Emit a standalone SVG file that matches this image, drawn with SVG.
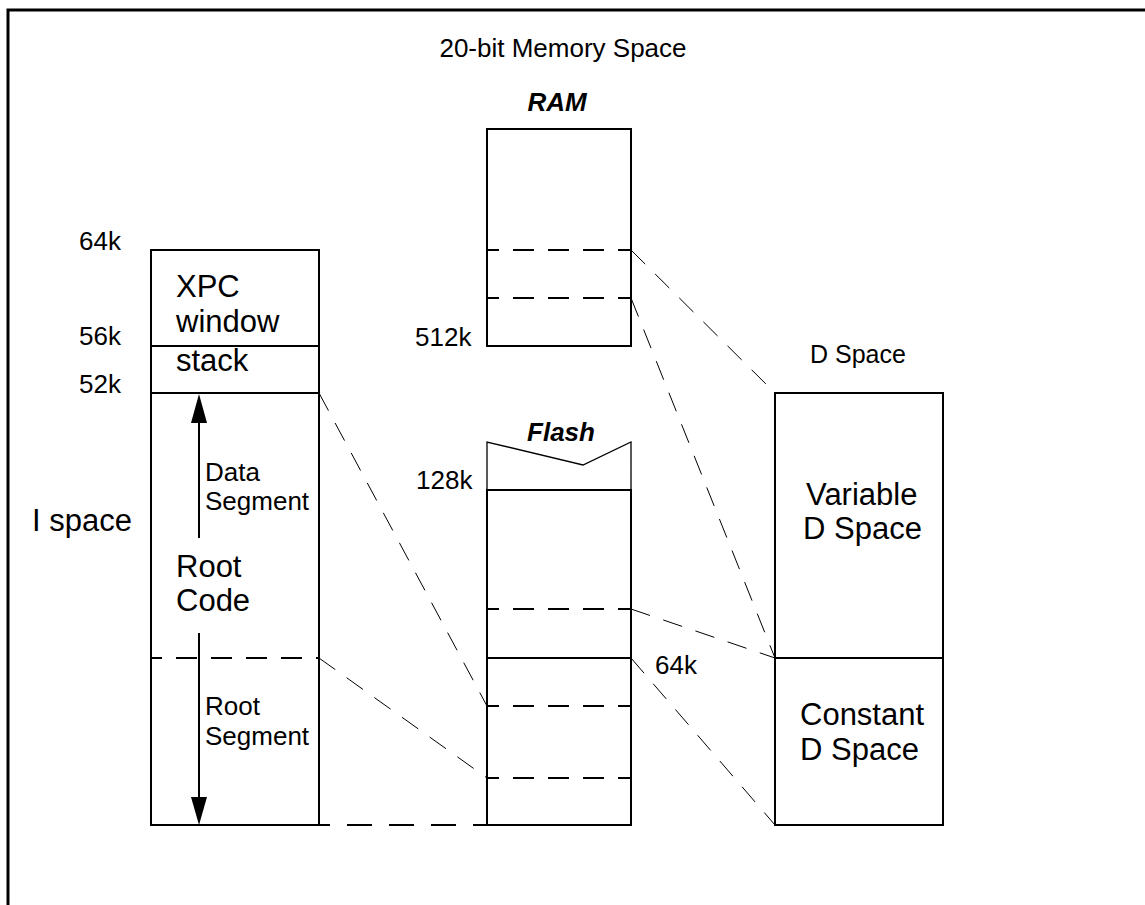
<svg xmlns="http://www.w3.org/2000/svg" width="1145" height="905" viewBox="0 0 1145 905">
<style>
text{font-family:"Liberation Sans",Arial,Helvetica,sans-serif;fill:#000}
.big{font-size:31px}
.sm{font-size:26px}
.bi{font-size:26px;font-weight:bold;font-style:italic}
.box{fill:none;stroke:#000;stroke-width:2}
.sep{stroke:#000;stroke-width:2;fill:none}
.dsep{stroke:#000;stroke-width:2;fill:none;stroke-dasharray:21 14}
.conn{stroke:#000;stroke-width:1;fill:none;stroke-dasharray:20 14}
</style>
<rect x="0" y="0" width="1145" height="905" fill="#fff"/>
<path d="M8,905 V10 H1145" fill="none" stroke="#000" stroke-width="3"/>
<text class="sm" x="563" y="57" text-anchor="middle">20-bit Memory Space</text>
<g id="ispace">
<rect class="box" x="151" y="250" width="168" height="575"/>
<line class="sep" x1="151" y1="346" x2="319" y2="346"/>
<line class="sep" x1="151" y1="393" x2="319" y2="393"/>
<line class="dsep" x1="151" y1="658" x2="319" y2="658" stroke-dashoffset="10"/>
<text class="sm" x="79" y="250">64k</text>
<text class="sm" x="79" y="345">56k</text>
<text class="sm" x="79" y="393">52k</text>
<text class="big" x="32" y="531">I space</text>
<text class="big" x="176" y="297">XPC</text>
<text class="big" x="176" y="332">window</text>
<text class="big" x="176" y="371">stack</text>
<text class="big" x="176" y="577">Root</text>
<text class="big" x="176" y="611">Code</text>
<text class="sm" x="205" y="481">Data</text>
<text class="sm" x="205" y="510">Segment</text>
<text class="sm" x="205" y="715">Root</text>
<text class="sm" x="205" y="745">Segment</text>
<line x1="199" y1="538" x2="199" y2="420" stroke="#000" stroke-width="2"/>
<polygon points="191,423 207,423 199,394" fill="#000"/>
<line x1="199" y1="633" x2="199" y2="800" stroke="#000" stroke-width="2"/>
<polygon points="191,797 207,797 199,825" fill="#000"/>
</g>
<g id="ram">
<text class="bi" x="557" y="111" text-anchor="middle">RAM</text>
<rect class="box" x="487" y="129" width="144" height="217"/>
<line class="dsep" x1="487" y1="250" x2="631" y2="250" stroke-dashoffset="9"/>
<line class="dsep" x1="487" y1="298" x2="631" y2="298" stroke-dashoffset="9"/>
<text class="sm" x="415" y="346">512k</text>
</g>
<g id="flash">
<text class="bi" x="561" y="441" text-anchor="middle">Flash</text>
<path d="M487,490 V442 L583,465 L631,442 V490" fill="none" stroke="#000" stroke-width="1.3"/>
<path class="box" d="M487,490 H631 V825 H487 Z"/>
<line class="dsep" x1="487" y1="609" x2="631" y2="609" stroke-dashoffset="9"/>
<line class="sep" x1="487" y1="658" x2="631" y2="658"/>
<line class="dsep" x1="487" y1="706" x2="631" y2="706" stroke-dashoffset="9"/>
<line class="dsep" x1="487" y1="778" x2="631" y2="778" stroke-dashoffset="9"/>
<text class="sm" x="416" y="489">128k</text>
<text class="sm" x="655" y="674">64k</text>
</g>
<g id="dspace">
<text x="810" y="363" style="font-size:25px">D Space</text>
<rect class="box" x="775" y="393" width="168" height="432"/>
<line class="sep" x1="775" y1="658" x2="943" y2="658"/>
<text class="big" x="806" y="505">Variable</text>
<text class="big" x="803" y="539">D Space</text>
<text class="big" x="800" y="725">Constant</text>
<text class="big" x="800" y="760">D Space</text>
</g>
<g id="connectors">
<line class="conn" x1="631" y1="250" x2="775" y2="393"/>
<line class="conn" x1="631" y1="298" x2="775" y2="658"/>
<line class="conn" x1="631" y1="609" x2="775" y2="658"/>
<line class="conn" x1="631" y1="658" x2="775" y2="825"/>
<line class="conn" x1="319" y1="393" x2="487" y2="706"/>
<line class="conn" x1="319" y1="658" x2="487" y2="778"/>
<line x1="319" y1="825" x2="487" y2="825" stroke="#000" stroke-width="2" stroke-dasharray="25 17" stroke-dashoffset="14"/>
</g>
</svg>
